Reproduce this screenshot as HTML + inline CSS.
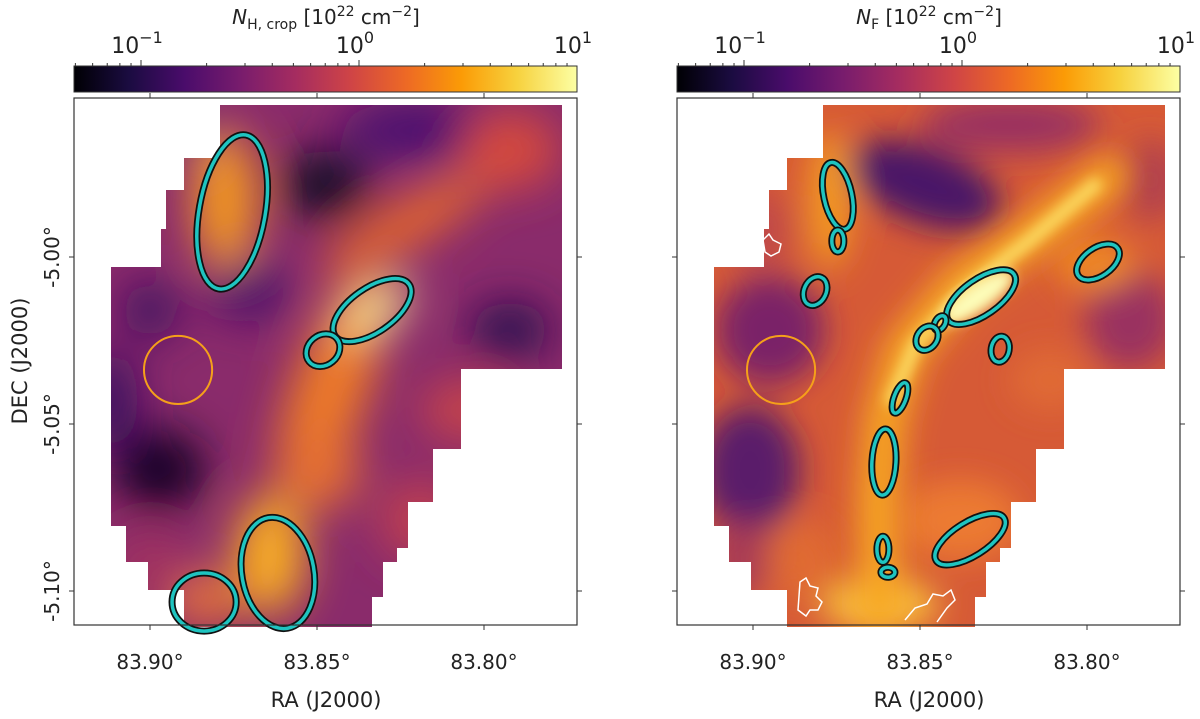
<!DOCTYPE html>
<html><head><meta charset="utf-8"><style>
body{margin:0;background:#fff;}
svg{display:block;font-family:"DejaVu Sans","Liberation Sans",sans-serif;}
</style></head><body>
<svg id="fig" width="1200" height="719" viewBox="0 0 1200 719">
<defs>
<linearGradient id="inferno" x1="0" x2="1" y1="0" y2="0">
<stop offset="0" stop-color="#000004"/><stop offset="0.11" stop-color="#1b0c41"/><stop offset="0.22" stop-color="#4a0c6b"/><stop offset="0.33" stop-color="#781c6d"/><stop offset="0.44" stop-color="#a52c60"/><stop offset="0.55" stop-color="#cf4446"/><stop offset="0.66" stop-color="#ed6925"/><stop offset="0.77" stop-color="#fb9b06"/><stop offset="0.88" stop-color="#f7d13d"/><stop offset="1" stop-color="#fcffa4"/>
</linearGradient>
<filter id="blurL" x="-30%" y="-30%" width="160%" height="160%"><feGaussianBlur stdDeviation="22"/></filter>
<filter id="blurR" x="-30%" y="-30%" width="160%" height="160%"><feGaussianBlur stdDeviation="16"/></filter>
<filter id="blurS" x="-30%" y="-30%" width="160%" height="160%"><feGaussianBlur stdDeviation="6"/></filter>
</defs>
<g id="panels"></g>
</svg>
<script>
// axis calibration
const raTicks = [83.90, 83.85, 83.80];
const decTicks = [-5.00, -5.05, -5.10];
const raTickLabels = ["83.90°", "83.85°", "83.80°"];
const decTickLabels = ["-5.00°", "-5.05°", "-5.10°"];
// colorbar
const cbDecades = [-1, 0, 1];
const cbLabels = ["10", "10", "10"];
// left panel sources (RA, DEC, semi-axes in deg, angle)
const leftRA = [83.8754, 83.8335, 83.8482, 83.8617, 83.8838];
const leftDEC = [-4.9865, -5.0159, -5.0279, -5.0946, -5.1033];
const leftA = [0.0099, 0.0135, 0.0054, 0.0108, 0.0096];
const leftB = [0.0234, 0.0066, 0.0045, 0.0168, 0.0087];
const leftAng = [10, -35, -40, -10, 0];
// right panel sources
const rightRA = [83.8746, 83.8746, 83.8814, 83.8317, 83.8440, 83.8479, 83.8260, 83.7967, 83.8560, 83.8608, 83.8611, 83.8596, 83.8350];
const rightDEC = [-4.9817, -4.9952, -5.0102, -5.0120, -5.0198, -5.0243, -5.0276, -5.0015, -5.0422, -5.0614, -5.0875, -5.0944, -5.0845];
const rightA = [0.0042, 0.0018, 0.0033, 0.0120, 0.0015, 0.0030, 0.0027, 0.0072, 0.0018, 0.0036, 0.0018, 0.0021, 0.0120];
const rightB = [0.0102, 0.0033, 0.0045, 0.0054, 0.0024, 0.0039, 0.0039, 0.0042, 0.0048, 0.0099, 0.0039, 0.0015, 0.0051];
const rightAng = [-12, 0, 25, -35, 30, 35, 10, -35, 20, 3, 0, 0, -32];
// background reference aperture
const refRA = 83.8916, refDEC = -5.0338, refR = 0.0102;

const NS = "http://www.w3.org/2000/svg";
const root = document.getElementById("panels");
function el(tag, attrs, parent) {
  const e = document.createElementNS(NS, tag);
  for (const k in attrs) e.setAttribute(k, attrs[k]);
  (parent || root).appendChild(e);
  return e;
}
const PX = 167 / 0.05;
const footprint = [[146,8],[488,8],[488,272],[387,272],[387,352],[359,352],[359,405],[334,405],[334,451],[323,451],[323,465],[309,465],[309,500],[298,500],[298,530],[110,530],[110,493],[74,493],[74,465],[52,465],[52,429],[37,429],[37,170],[87,170],[87,132],[92,132],[92,93],[110,93],[110,61],[146,61]];

function panel(idx, ax0, titleSub, ras, decs, As, Bs, angs, blobs, blurId, extra) {
  const ax1 = ax0 + 503, ay0 = 98, ay1 = 625;
  const xRA = ra => ax0 + 76 + (83.90 - ra) * PX;
  const yDEC = d => 257 + (-5.00 - d) * PX;
  const g = el("g", {});
  
  
  const cp = el("clipPath", {id: "fp" + idx}, g);
  el("polygon", {points: footprint.map(p => (p[0] + ax0) + "," + (p[1] + ay0 - 1)).join(" ")}, cp);
  const map = el("g", {"clip-path": "url(#fp" + idx + ")"}, g);
  
  
  el("rect", {x: ax0, y: ay0, width: 503, height: 530, fill: blobs.base}, map);
  const bl = el("g", {filter: "url(#" + blurId + ")"}, map);
  blobs.list.forEach(b => {
    el("ellipse", {cx: b[0], cy: b[1], rx: b[2], ry: b[3], fill: b[4], transform: "rotate(" + (b[5] || 0) + " " + b[0] + " " + b[1] + ")"}, bl);
  });
  if (extra) extra(map);
  const rc = el("circle", {cx: xRA(refRA), cy: yDEC(refDEC), r: refR * PX, fill: "none", stroke: "#f5a01a", "stroke-width": 2}, g);
  
  
  ras.forEach((ra, i) => {
    const cx = xRA(ra), cy = yDEC(decs[i]);
    const t = "rotate(" + angs[i] + " " + cx + " " + cy + ")";
    const eg = el("g", {}, g);
    
    
    el("ellipse", {cx: cx, cy: cy, rx: As[i] * PX, ry: Bs[i] * PX, fill: "none", stroke: "#111", "stroke-width": 7, transform: t}, eg);
    el("ellipse", {cx: cx, cy: cy, rx: As[i] * PX, ry: Bs[i] * PX, fill: "none", stroke: "#1fc4c0", "stroke-width": 3.5, transform: t}, eg);
  });
  const fr = el("rect", {x: ax0, y: ay0, width: 503, height: ay1 - ay0, fill: "none", stroke: "#333", "stroke-width": 1.2}, g);
  
  
  raTicks.forEach((ra, i) => {
    const x = xRA(ra);
    el("line", {x1: x, x2: x, y1: ay1, y2: ay1 + 5, stroke: "#333", "stroke-width": 1}, g);
    el("line", {x1: x, x2: x, y1: ay0, y2: ay0 - 5, stroke: "#333", "stroke-width": 1}, g);
    const t = el("text", {x: x, y: ay1 + 44, "font-size": 20, "text-anchor": "middle", fill: "#222"}, g);
    t.textContent = raTickLabels[i];
    
    
  });
  decTicks.forEach((d, i) => {
    const y = yDEC(d);
    el("line", {x1: ax0, x2: ax0 - 5, y1: y, y2: y, stroke: "#333", "stroke-width": 1}, g);
    el("line", {x1: ax1, x2: ax1 + 5, y1: y, y2: y, stroke: "#333", "stroke-width": 1}, g);
    if (idx === 0) {
      const t = el("text", {x: ax0 - 15, y: y, "font-size": 20, "text-anchor": "middle", fill: "#222", transform: "rotate(-90 " + (ax0 - 15) + " " + y + ")"}, g);
      t.textContent = decTickLabels[i];
      
      
    }
  });
  const xl = el("text", {x: ax0 + 252, y: 707, "font-size": 21, "text-anchor": "middle", fill: "#222"}, g);
  xl.textContent = "RA (J2000)";
  
  
  if (idx === 0) {
    const yl = el("text", {x: 27, y: 361, "font-size": 21, "text-anchor": "middle", fill: "#222", transform: "rotate(-90 27 361)"}, g);
    yl.textContent = "DEC (J2000)";
    
    
  }
  const cb = el("g", {}, g);
  
  
  el("rect", {x: ax0, y: 66, width: 503, height: 26, fill: "url(#inferno)", stroke: "#333", "stroke-width": 1}, cb);
  const cx = v => ax1 - (1 - v) * 218;
  for (let dcd = -2; dcd <= 0; dcd++) for (let m = 1; m < 10; m++) {
    const v = dcd + Math.log10(m);
    const x = cx(v);
    if (x < ax0 || x > ax1) continue;
    el("line", {x1: x, x2: x, y1: 66, y2: m === 1 ? 60 : 63, stroke: "#333", "stroke-width": 1}, cb);
  }
  cbDecades.forEach((v, i) => {
    const x = cx(v);
    const t = el("text", {x: x - 4, y: 53, "font-size": 22, "text-anchor": "middle", fill: "#222"}, cb);
    t.textContent = cbLabels[i];
    const s = el("tspan", {dy: -10, "font-size": 16}, t);
    s.textContent = v === -1 ? "−1" : String(v);
    
    
  });
  const ct = el("text", {x: ax0 + 252, y: 24, "font-size": 20, "text-anchor": "middle", fill: "#222"}, cb);
  
  
  const a = el("tspan", {"font-style": "italic"}, ct); a.textContent = "N";
  const b = el("tspan", {dy: 5, "font-size": 14}, ct); b.textContent = titleSub;
  const c = el("tspan", {dy: -5}, ct); c.textContent = " [10";
  const d = el("tspan", {dy: -8, "font-size": 14}, ct); d.textContent = "22";
  const e = el("tspan", {dy: 8}, ct); e.textContent = " cm";
  const f = el("tspan", {dy: -8, "font-size": 14}, ct); f.textContent = "−2";
  const h = el("tspan", {dy: 8}, ct); h.textContent = "]";
}

panel(0, 74, "H, crop", leftRA, leftDEC, leftA, leftB, leftAng, {
  base: "#8a2b6b",
  list: [
    [325,185,45,35,"#150828"],[160,470,45,40,"#120626"],[150,310,28,28,"#3a0f60"],[110,400,28,50,"#3a0f60"],
    [510,330,40,28,"#2a0b50"],[250,290,40,30,"#4a0c6b"],[420,130,80,30,"#4a1070"],[200,140,30,25,"#6a1a6a"],
    [330,390,38,120,"#ee7a28",20],[375,310,42,20,"#fbe890",-35],[270,555,35,60,"#fbb020"],[225,200,32,70,"#f59a20"],
    [205,600,35,25,"#f07a30"],[405,225,95,22,"#e86a2a",-30],[510,150,50,40,"#d44a3c"],[470,410,50,30,"#c8444a"],
    [320,470,40,40,"#e57030"],[150,570,40,40,"#a03060"],[420,520,40,40,"#c04050"]
  ]
}, "blurL");

panel(1, 677, "F", rightRA, rightDEC, rightA, rightB, rightAng, {
  base: "#d65a36",
  list: [
    [925,185,80,38,"#4a1468",20],[770,330,55,55,"#7a2068"],[750,470,50,65,"#5a1a6a"],[1130,320,45,50,"#9a3060"],
    [1010,125,90,28,"#9a3060"],[830,200,22,70,"#f39a22"],[1095,265,40,25,"#f08a20"],[960,520,60,40,"#ec7a30"],
    [880,605,60,25,"#f8c040"],[800,560,40,40,"#e06a30"],[1050,380,40,30,"#e06a35"],[1150,180,30,40,"#b04050"],
    [760,230,30,40,"#c04a48"],[740,560,30,40,"#a83a55"]
  ]
}, "blurR", function(map) {
  el("path", {d: "M1110,175 L1040,230 L960,285 L905,350 L885,420 L878,500 L880,610", fill: "none", stroke: "#f8a820", "stroke-width": 40, "stroke-linecap": "round", filter: "url(#blurR)"}, map);
  el("path", {d: "M1095,185 L1030,240 L965,290 L915,345 L892,400", fill: "none", stroke: "#fbd860", "stroke-width": 14, "stroke-linecap": "round", filter: "url(#blurS)"}, map);
  el("ellipse", {cx: 978, cy: 297, rx: 42, ry: 14, fill: "#fdfcb8", transform: "rotate(-35 978 297)", filter: "url(#blurS)"}, map);
  el("path", {d: "M800,582 l6,-4 l4,8 l8,2 l-2,8 l6,6 l-4,8 l-8,0 l-4,6 l-8,-6 Z M905,620 l10,-12 l12,-4 l6,-10 l10,2 l8,-6 l4,10 l-8,8 l-10,14", fill: "none", stroke: "#fff", "stroke-width": 1.5}, map);
  el("path", {d: "M763,240 l6,-6 l4,6 l8,4 l-2,8 l-8,4 l-6,-4 Z", fill: "none", stroke: "#fff", "stroke-width": 1.5}, map);
});
</script>
</body></html>
